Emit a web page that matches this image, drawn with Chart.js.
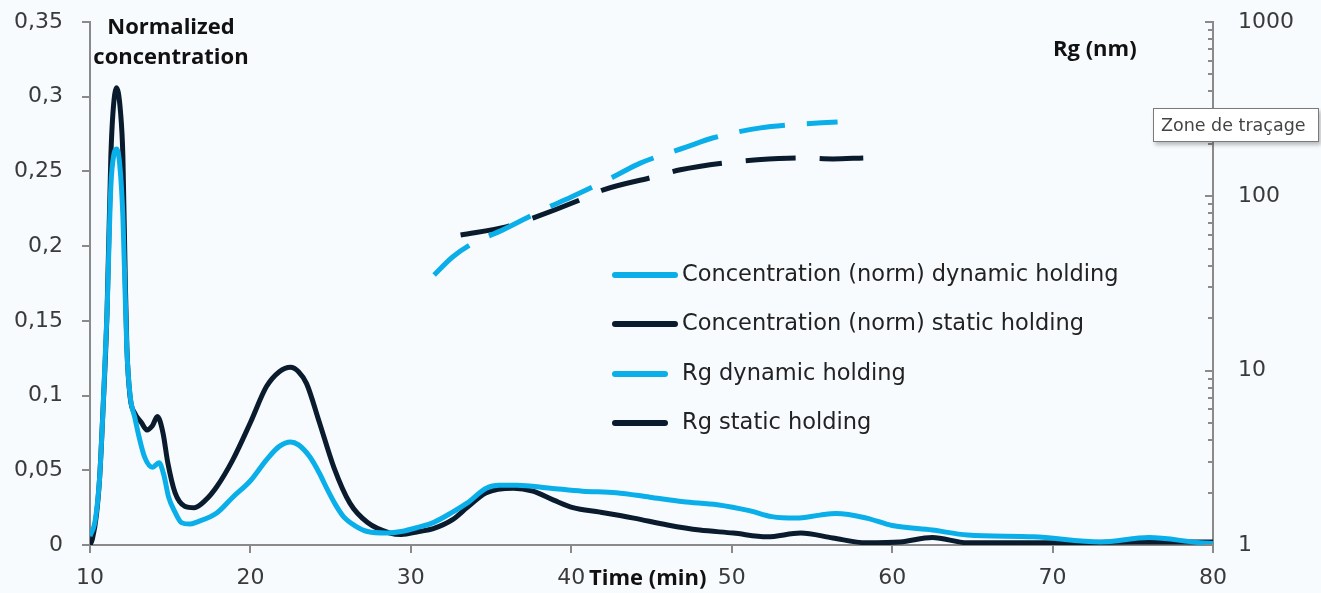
<!DOCTYPE html>
<html>
<head>
<meta charset="utf-8">
<script src="https://cdn.jsdelivr.net/npm/chart.js@4/dist/chart.umd.min.js"></script>
<style>
  html, body { margin: 0; padding: 0; background: #f7fbfe; }
  #wrap { position: relative; width: 1321px; height: 593px; overflow: hidden; background: #f7fbfe; }
  canvas { position: absolute; left: 0; top: 0; }
  .lbl { position: absolute; font-family: "Open Sans", "Noto Sans", sans-serif; font-weight: 700; color: #111; white-space: nowrap; font-size: 22px; }
  #legend { position: absolute; left: 612px; top: 255px; font-family: "DejaVu Sans", sans-serif; font-size: 22.5px; color: #222; }
  .row { position: relative; height: 49.3px; }
  .sw { position: absolute; top: 17px; height: 6px; border-radius: 3px; }
  .txt { position: absolute; top: 5px; left: 70px; white-space: nowrap; }
  #zone { position: absolute; left: 1153px; top: 108px; width: 166px; height: 34px; background: #fff; border: 1px solid #7a7a7a; box-shadow: 2px 3px 4px rgba(0,0,0,0.25); font-family: "DejaVu Sans", sans-serif; font-size: 17.5px; color: #444; line-height: 32px; padding-left: 7px; box-sizing: border-box; white-space: nowrap; }
</style>
</head>
<body>
<div id="wrap">
  <canvas id="c" width="1321" height="593"></canvas>
  <div class="lbl" style="left:92px; top:10px; width:158px; text-align:center; line-height:30px;">Normalized<br>concentration</div>
  <div class="lbl" style="left:1053px; top:32px;">Rg (nm)</div>
  <div class="lbl" style="left:589px; top:561px;">Time (min)</div>
  <div id="legend"></div>
  <div id="zone">Zone de traçage</div>
</div>
<script>
// ---- data ----
const dynTime = [10, 10.3, 10.5, 10.6, 10.8, 11.06, 11.3, 11.5, 11.65, 11.85, 12.05, 12.2, 12.3, 12.5, 12.8, 13.0, 13.4, 13.9, 14.3, 14.6, 14.9, 15.3, 15.7, 16.2, 16.7, 17.9, 18.9, 20, 21, 21.8, 22.5, 23, 23.7, 24.3, 24.8, 25.3, 25.8, 26.5, 27.3, 28.5, 29.4, 30.5, 31.4, 32.6, 33.5, 34.7, 35.5, 36.6, 38.7, 40.7, 42.8, 44.9, 47, 49.1, 51.1, 52.5, 54, 55.5, 56.5, 58.4, 60, 62.5, 64.7, 68.8, 73, 76, 79.2, 80];
const dynConc = [0.006, 0.015, 0.032, 0.045, 0.088, 0.155, 0.24, 0.262, 0.265, 0.255, 0.22, 0.165, 0.13, 0.1, 0.085, 0.075, 0.059, 0.052, 0.055, 0.047, 0.032, 0.022, 0.015, 0.014, 0.0155, 0.0214, 0.032, 0.043, 0.057, 0.066, 0.069, 0.067, 0.059, 0.048, 0.037, 0.027, 0.019, 0.013, 0.009, 0.008, 0.009, 0.012, 0.015, 0.022, 0.028, 0.038, 0.040, 0.040, 0.038, 0.036, 0.035, 0.032, 0.029, 0.027, 0.023, 0.019, 0.018, 0.020, 0.021, 0.018, 0.013, 0.010, 0.0067, 0.0055, 0.002, 0.005, 0.0015, 0.001];

const staTime = [10, 10.15, 10.4, 10.6, 10.8, 11.06, 11.3, 11.43, 11.65, 11.9, 12.05, 12.2, 12.3, 12.5, 12.8, 13.2, 13.55, 13.9, 14.2, 14.55, 14.85, 15.3, 15.9, 16.5, 17.2, 17.9, 18.9, 20, 21, 21.8, 22.5, 23, 23.5, 24.3, 25.2, 26.2, 27.3, 28.7, 29.4, 30.5, 31.4, 32.6, 33.5, 34.7, 36.4, 37.6, 38.9, 40.1, 41.8, 43.9, 46, 48, 50.1, 52.2, 54.3, 56.3, 58.4, 60.5, 62.5, 64.7, 70, 75, 80];
const staConc = [0, 0.004, 0.02, 0.045, 0.088, 0.155, 0.26, 0.289, 0.306, 0.29, 0.26, 0.177, 0.132, 0.099, 0.088, 0.082, 0.077, 0.08, 0.086, 0.075, 0.055, 0.035, 0.026, 0.025, 0.03, 0.039, 0.057, 0.082, 0.106, 0.116, 0.119, 0.116, 0.108, 0.082, 0.052, 0.028, 0.015, 0.008, 0.007, 0.009, 0.011, 0.017, 0.025, 0.035, 0.038, 0.036, 0.030, 0.025, 0.022, 0.018, 0.0134, 0.010, 0.008, 0.0055, 0.008, 0.0047, 0.0015, 0.002, 0.005, 0.0015, 0.0015, 0.002, 0.002];

const rgDynTime = [31.45, 32.6, 33.9, 35.7, 38.2, 40, 42.6, 44.3, 47.2, 48.8, 51.8, 53.6, 56.6];
const rgDyn = [35.4, 44.9, 54, 64, 83.5, 99, 129, 155, 192, 216, 247, 257, 267];

const rgStaTime = [33.1, 36, 37.6, 40.5, 42, 45.1, 46.8, 49.9, 51.6, 54.5, 56.3, 58.2];
const rgSta = [60, 67, 75, 95, 109, 129, 142, 157, 162, 166, 164, 166];

const xTicks = [10, 20, 30, 40, 50, 60, 70, 80];
const yTickLabels = ['0', '0,05', '0,1', '0,15', '0,2', '0,25', '0,3', '0,35'];
const y2Labels = [1, 10, 100, 1000];

const seriesNames = ['Concentration (norm) dynamic holding', 'Concentration (norm) static holding', 'Rg dynamic holding', 'Rg static holding'];
const LIGHT = '#0aaee9';
const DARK = '#0b1b2e';

const pts = (xs, ys) => xs.map((x, i) => ({x: x, y: ys[i]}));

// legend (HTML)
const legend = document.getElementById('legend');
const swW = [66, 66, 56, 56];
const cols = [LIGHT, DARK, LIGHT, DARK];
seriesNames.forEach((n, i) => {
  const r = document.createElement('div'); r.className = 'row';
  const s = document.createElement('div'); s.className = 'sw';
  s.style.left = '0px'; s.style.width = swW[i] + 'px'; s.style.background = cols[i];
  const t = document.createElement('div'); t.className = 'txt';
  t.textContent = n;
  r.appendChild(s); r.appendChild(t); legend.appendChild(r);
});

const AXIS = '#8a8a8a';
const tickFont = { family: '"DejaVu Sans", sans-serif', size: 22 };
const TICKCOL = '#3a3a3a';

const logTicksPlugin = {
  id: 'logTicks',
  afterDraw(chart) {
    const sc = chart.scales.y2;
    const ctx = chart.ctx;
    ctx.save();
    ctx.strokeStyle = AXIS;
    ctx.lineWidth = 2;
    for (let d = 1; d <= 1000; d *= 10) {
      for (let m = 1; m <= 9; m++) {
        const v = d * m;
        if (v > 1000) break;
        const y = Math.round(sc.getPixelForValue(v));
        const len = (m === 1) ? 8 : 5;
        ctx.beginPath();
        ctx.moveTo(sc.left - len, y);
        ctx.lineTo(sc.left, y);
        ctx.stroke();
      }
    }
    ctx.restore();
  }
};

const fitV = (w) => (s) => { s.width = w; s.paddingTop = 0; s.paddingBottom = 0; };

new Chart(document.getElementById('c'), {
  type: 'line',
  data: {
    datasets: [
      { label: seriesNames[0], data: pts(dynTime, dynConc), borderColor: LIGHT, borderWidth: 5, yAxisID: 'y', pointRadius: 0, cubicInterpolationMode: 'monotone' },
      { label: seriesNames[1], data: pts(staTime, staConc), borderColor: DARK, borderWidth: 5, yAxisID: 'y', pointRadius: 0, cubicInterpolationMode: 'monotone' },
      { label: seriesNames[2], data: pts(rgDynTime, rgDyn), borderColor: LIGHT, borderWidth: 5, yAxisID: 'y2', pointRadius: 0, borderDash: [46, 22], cubicInterpolationMode: 'monotone' },
      { label: seriesNames[3], data: pts(rgStaTime, rgSta), borderColor: DARK, borderWidth: 5, yAxisID: 'y2', pointRadius: 0, borderDash: [50, 24], cubicInterpolationMode: 'monotone' }
    ]
  },
  options: {
    responsive: false,
    animation: false,
    devicePixelRatio: 1,
    layout: { autoPadding: false, padding: { top: 22, left: 0, right: 0, bottom: 0 } },
    plugins: { legend: { display: false }, tooltip: { enabled: false } },
    scales: {
      x: {
        type: 'linear', min: 10, max: 80,
        afterBuildTicks: (s) => { s.ticks = xTicks.map(v => ({value: v})); },
        ticks: { font: tickFont, color: TICKCOL, padding: 12, maxRotation: 0 },
        grid: { drawOnChartArea: false, drawTicks: true, tickLength: 8, color: AXIS, lineWidth: 2 },
        border: { color: AXIS, width: 2 },
        afterFit: (s) => { s.height = 48; s.paddingLeft = 0; s.paddingRight = 0; }
      },
      y: {
        position: 'left', min: 0, max: 0.35,
        afterBuildTicks: (s) => { s.ticks = yTickLabels.map((l, i) => ({value: i * 0.05})); },
        ticks: { font: tickFont, color: TICKCOL, padding: 19, callback: (v, i) => yTickLabels[i] },
        grid: { drawOnChartArea: false, drawTicks: true, tickLength: 8, color: AXIS, lineWidth: 2 },
        border: { color: AXIS, width: 2 },
        afterFit: fitV(90)
      },
      y2: {
        type: 'logarithmic', position: 'right', min: 1, max: 1000,
        afterBuildTicks: (s) => { s.ticks = y2Labels.map(v => ({value: v})); },
        ticks: { font: tickFont, color: TICKCOL, padding: 25, callback: (v) => String(v) },
        grid: { display: false, drawTicks: false },
        border: { display: true, color: AXIS, width: 2 },
        afterFit: fitV(108)
      }
    }
  },
  plugins: [logTicksPlugin]
});
</script>
</body>
</html>
